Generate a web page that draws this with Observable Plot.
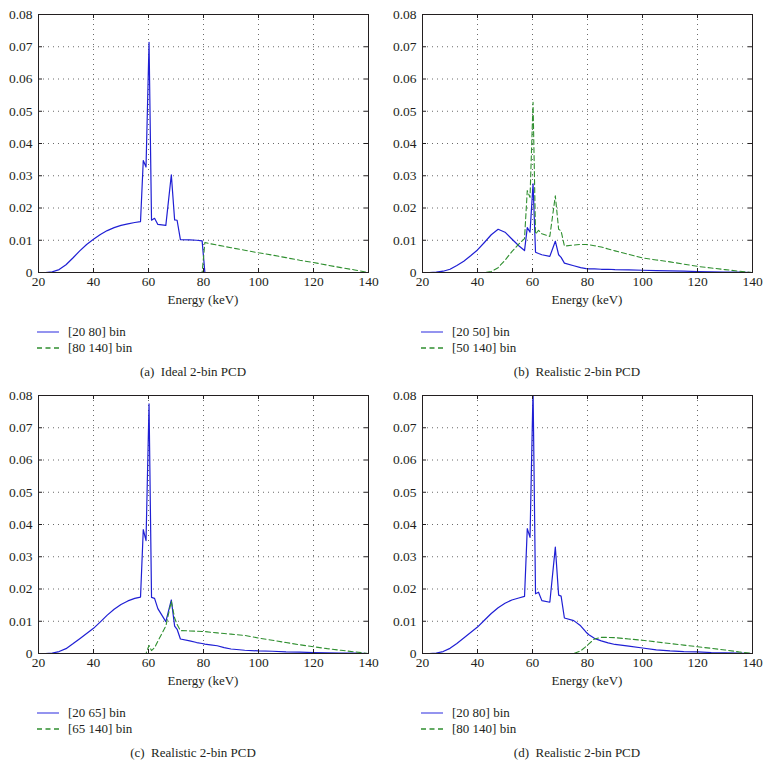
<!DOCTYPE html>
<html><head><meta charset="utf-8">
<script src="https://cdn.jsdelivr.net/npm/d3@7"></script>
<script src="https://cdn.jsdelivr.net/npm/@observablehq/plot@0.6"></script>
<style>
body{margin:0;background:#fff;}
#root{position:relative;width:769px;height:779px;font-family:"Liberation Serif","Times New Roman",serif;color:#231f20;overflow:hidden;}
.panel{position:absolute;}
.legrow{position:absolute;font-size:13px;line-height:16px;height:16px;display:flex;align-items:center;white-space:nowrap;}
.legrow svg{margin-right:9px;}
.caption{position:absolute;font-size:13px;line-height:16px;text-align:center;white-space:pre;width:384px;}
.xlabel{position:absolute;font-size:13px;line-height:16px;text-align:center;white-space:pre;width:200px;font-weight:normal;}
</style>
</head><body><div id="root"></div>
<script>
const energy = [20, 22.5, 25, 27.5, 30, 32.5, 35, 37.5, 40, 42.5, 45, 47.5, 50, 52.5, 55, 57.1, 58.1, 59.1, 60.2, 61.1, 62.2, 63.4, 66.3, 68.3, 69.5, 70.4, 71.6, 75, 77.5, 79.5, 80.5, 82.5, 85, 87.5, 90, 95, 100, 105, 110, 115, 120, 125, 130, 135, 140];

// (a) Ideal 2-bin PCD
const blueA = [0, 0, 0.0002, 0.0009, 0.0024, 0.0045, 0.0067, 0.0087, 0.0103, 0.0118, 0.013, 0.0139, 0.0146, 0.0151, 0.0155, 0.0158, 0.0347, 0.0327, 0.0714, 0.0162, 0.0168, 0.0149, 0.0146, 0.0303, 0.0163, 0.0162, 0.0102, 0.0101, 0.0100, 0.0098, 0, 0, 0, 0, 0, 0, 0, 0, 0, 0, 0, 0, 0, 0, 0];
const greenA = [0, 0, 0, 0, 0, 0, 0, 0, 0, 0, 0, 0, 0, 0, 0, 0, 0, 0, 0, 0, 0, 0, 0, 0, 0, 0, 0, 0, 0, 0, 0.0093, 0.0089, 0.0085, 0.0081, 0.0077, 0.0069, 0.0061, 0.0054, 0.0046, 0.0038, 0.0031, 0.0023, 0.0015, 0.0008, 0];

// (b) Realistic 2-bin PCD, threshold 50
const blueB = [0, 0, 0.0001, 0.0004, 0.001, 0.0022, 0.0035, 0.0052, 0.007, 0.0093, 0.0117, 0.0134, 0.0125, 0.0104, 0.0083, 0.0068, 0.0139, 0.0125, 0.0275, 0.0063, 0.0059, 0.0055, 0.005, 0.0097, 0.0055, 0.0047, 0.0029, 0.0021, 0.0015, 0.0012, 0.0011, 0.0011, 0.001, 0.001, 0.0009, 0.0008, 0.0007, 0.0006, 0.0005, 0.0004, 0.0003, 0.0002, 0.0001, 0.0001, 0];
const greenB = [0, 0, 0, 0, 0, 0, 0, 0, 0, 0, 0.0003, 0.0015, 0.0038, 0.0065, 0.0088, 0.0105, 0.0254, 0.0233, 0.0528, 0.0119, 0.0131, 0.012, 0.0112, 0.0238, 0.0134, 0.0129, 0.0082, 0.0085, 0.0087, 0.0087, 0.0086, 0.0083, 0.0079, 0.0073, 0.0067, 0.0056, 0.0045, 0.0039, 0.0033, 0.0026, 0.0019, 0.0014, 0.0009, 0.0004, 0];

// (c) Realistic 2-bin PCD, threshold 65
const blueC = [0, 0, 0.0001, 0.0006, 0.0015, 0.003, 0.0046, 0.0062, 0.0078, 0.0098, 0.0119, 0.0137, 0.0152, 0.0163, 0.0171, 0.0175, 0.0384, 0.035, 0.0774, 0.0174, 0.0171, 0.0139, 0.0099, 0.0166, 0.0085, 0.0075, 0.0045, 0.0039, 0.0034, 0.0031, 0.0029, 0.0027, 0.0024, 0.0018, 0.0014, 0.001, 0.0008, 0.0007, 0.0005, 0.0004, 0.0003, 0.0002, 0.0001, 0.0001, 0];
const greenC = [0, 0, 0, 0, 0, 0, 0, 0, 0, 0, 0, 0, 0, 0, 0, 0, 0, 0, 0.0025, 0.0009, 0.0018, 0.0038, 0.0085, 0.0162, 0.011, 0.009, 0.0071, 0.007, 0.0069, 0.0068, 0.0068, 0.0066, 0.0064, 0.0062, 0.006, 0.0056, 0.0048, 0.0041, 0.0034, 0.0027, 0.0021, 0.0015, 0.001, 0.0005, 0];

// (d) Realistic 2-bin PCD, threshold 80
const blueD = [0, 0, 0.0001, 0.0006, 0.0016, 0.0031, 0.0048, 0.0065, 0.0082, 0.0103, 0.0124, 0.0142, 0.0156, 0.0166, 0.0172, 0.0177, 0.0387, 0.036, 0.082, 0.0185, 0.019, 0.0164, 0.0159, 0.033, 0.0181, 0.0178, 0.011, 0.0102, 0.0086, 0.0066, 0.0058, 0.0047, 0.0039, 0.0033, 0.0028, 0.0023, 0.0017, 0.0011, 0.0008, 0.0006, 0.0005, 0.0003, 0.0002, 0.0001, 0];
const greenD = [0, 0, 0, 0, 0, 0, 0, 0, 0, 0, 0, 0, 0, 0, 0, 0, 0, 0, 0, 0, 0, 0, 0, 0, 0, 0, 0, 0, 0.0008, 0.0022, 0.003, 0.0045, 0.005, 0.005, 0.0049, 0.0045, 0.0041, 0.0036, 0.0031, 0.0026, 0.0021, 0.0016, 0.0011, 0.0005, 0];

const xTicks = [20, 40, 60, 80, 100, 120, 140];
const yTicks = [0, 0.01, 0.02, 0.03, 0.04, 0.05, 0.06, 0.07, 0.08];
const xLabel = "Energy (keV)";
const legendBlue = ["[20 80] bin", "[20 50] bin", "[20 65] bin", "[20 80] bin"];
const legendGreen = ["[80 140] bin", "[50 140] bin", "[65 140] bin", "[80 140] bin"];
const captions = ["(a)  Ideal 2-bin PCD", "(b)  Realistic 2-bin PCD", "(c)  Realistic 2-bin PCD", "(d)  Realistic 2-bin PCD"];

const BLUE = "#1f1fd4";
const GREEN = "#2f8f2f";
const INK = "#231f20";

const panels = [
  {left: 0, top: 0, width: 384, marginTop: 14, blue: blueA, green: greenA},
  {left: 384, top: 0, width: 385, marginTop: 14, blue: blueB, green: greenB},
  {left: 0, top: 380, width: 384, marginTop: 15, blue: blueC, green: greenC},
  {left: 384, top: 380, width: 385, marginTop: 15, blue: blueD, green: greenD}
];

const root = document.getElementById("root");
const plotW = 330, plotH = 258, mB = 22;

panels.forEach((p, i) => {
  const rows = energy.map((e, j) => ({e, blue: p.blue[j], green: p.green[j]}));
  const chart = Plot.plot({
    width: p.width,
    height: p.marginTop + plotH + mB,
    marginLeft: 38,
    marginRight: p.width - 38 - plotW,
    marginTop: p.marginTop,
    marginBottom: mB,
    style: {fontFamily: '"Liberation Serif", "Times New Roman", serif', fontSize: "13.5px", color: INK, background: "white", overflow: "visible"},
    x: {domain: [20, 140], ticks: xTicks, tickSize: 0, tickPadding: 4, label: null},
    y: {domain: [0, 0.08], ticks: yTicks, tickSize: 0, tickPadding: 6, label: null, tickFormat: d => d === 0 ? "0" : d3.format(".2f")(d)},
    marks: [
      Plot.gridX(xTicks.slice(1, -1), {stroke: "#6a6a6a", strokeOpacity: 1, strokeWidth: 1, strokeDasharray: "1,4"}),
      Plot.gridY(yTicks.slice(1, -1), {stroke: "#6a6a6a", strokeOpacity: 1, strokeWidth: 1, strokeDasharray: "1,4"}),
      Plot.line(rows, {x: "e", y: "blue", stroke: BLUE, strokeWidth: 1.2, clip: true}),
      Plot.line(rows, {x: "e", y: "green", stroke: GREEN, strokeWidth: 1.1, strokeDasharray: "5,3", clip: true}),
      Plot.tickX(xTicks, {x: d => d, insetTop: plotH - 4, stroke: INK}),
      Plot.tickX(xTicks, {x: d => d, insetBottom: plotH - 4, stroke: INK}),
      Plot.tickY(yTicks, {y: d => d, insetRight: plotW - 4, stroke: INK}),
      Plot.tickY(yTicks, {y: d => d, insetLeft: plotW - 4, stroke: INK}),
      Plot.frame({stroke: INK, strokeWidth: 1})
    ]
  });
  const div = document.createElement("div");
  div.className = "panel";
  div.style.left = p.left + "px";
  div.style.top = p.top + "px";
  div.appendChild(chart);
  root.appendChild(div);

  const base = p.top + p.marginTop + plotH; // y of the x-axis line
  const xl = document.createElement("div");
  xl.className = "xlabel";
  xl.style.left = (p.left + 38 + plotW / 2 - 100) + "px";
  xl.style.top = (base + 28 - 8) + "px";
  xl.textContent = xLabel;
  root.appendChild(xl);

  const mkRow = (label, color, dash, cy) => {
    const r = document.createElement("div");
    r.className = "legrow";
    r.style.left = (p.left + 37) + "px";
    r.style.top = (cy - 8) + "px";
    r.innerHTML = `<svg width="22" height="6"><line x1="0" x2="22" y1="3" y2="3" stroke="${color}" stroke-width="1.3" ${dash ? 'stroke-dasharray="5,3.5"' : ''}/></svg><span>${label}</span>`;
    root.appendChild(r);
  };
  mkRow(legendBlue[i], "#5a5ae6", false, base + 60);
  mkRow(legendGreen[i], GREEN, true, base + 76);
  const c = document.createElement("div");
  c.className = "caption";
  c.style.left = (p.left + 1) + "px";
  c.style.top = (base + 100 - 8) + "px";
  c.textContent = captions[i];
  root.appendChild(c);
});
</script>
</body></html>
